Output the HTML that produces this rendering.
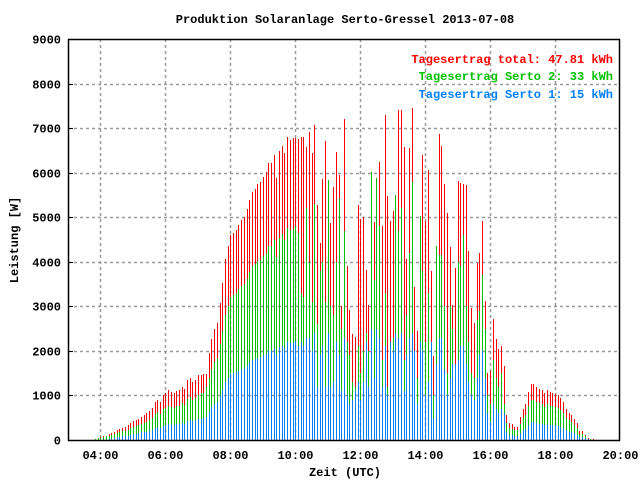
<!DOCTYPE html>
<html><head><meta charset="utf-8"><style>
body{margin:0;background:#fff}
svg{display:block}
text{font-family:"Liberation Mono",monospace;font-weight:bold;font-size:12px}
</style></head><body>
<svg id="chart" width="640" height="480" viewBox="0 0 640 480" xmlns="http://www.w3.org/2000/svg">
<rect x="0" y="0" width="640" height="480" fill="#fff"/>
<text x="345" y="23" text-anchor="middle">Produktion Solaranlage Serto-Gressel 2013-07-08</text>
<g id="grid"></g>
<g id="bars" shape-rendering="crispEdges"></g>
<rect x="68.5" y="39.5" width="551" height="401" fill="none" stroke="#000" stroke-width="1.5"/>
<g id="ticks"></g>
<text x="345" y="476" text-anchor="middle">Zeit (UTC)</text>
<text transform="translate(18,240) rotate(-90)" text-anchor="middle">Leistung [W]</text>
<g>
<text x="613" y="63" text-anchor="end" fill="#ff0000">Tagesertrag total: 47.81 kWh</text>
<text x="613" y="80" text-anchor="end" fill="#00c000">Tagesertrag Serto 2: 33 kWh</text>
<text x="613" y="98" text-anchor="end" fill="#0080ff">Tagesertrag Serto 1: 15 kWh</text>
</g>
</svg>
<script>
const startMinutes = 230; // 03:50
const stepMinutes = 5;
const yTicks = [0,1000,2000,3000,4000,5000,6000,7000,8000,9000];
const xTickLabels = ["04:00","06:00","08:00","10:00","12:00","14:00","16:00","18:00","20:00"];
const xTickHours = [4,6,8,10,12,14,16,18,20];
const total = [20,40,60,80,100,130,160,190,220,250,280,300,330,380,420,450,480,520,560,600,650,720,850,900,850,1000,1050,1120,1080,1050,1100,1120,1200,1150,1350,1400,1300,
1350,1450,1450,1480,1480,1950,2270,2500,2630,3070,3530,4060,4350,4600,4640,4710,4820,4940,5010,5180,5390,5570,5630,5740,5790,5900,6010,6220,6220,6400,5880,6490,6600,6440,6800,6730,6770,6770,
6750,6800,6810,6580,6910,6440,7070,5270,4420,5860,6710,5840,4870,5680,6460,5950,3010,7200,3900,2920,2380,2310,5270,4960,5010,3820,3030,6010,4890,5880,6240,4800,7290,5480,4910,5140,5500,7400,
7400,6580,4060,6550,7450,3430,2450,5030,6400,4910,6060,3790,1890,4350,6870,6600,5750,5090,4330,3030,3860,5810,5770,5750,5720,4240,2960,2630,3970,4200,4910,3120,1500,1550,2720,2270,2040,2110,1660,
560,380,350,300,300,510,700,800,1080,1260,1260,1190,1140,1120,1050,1120,1080,1060,1030,1010,940,850,700,610,560,470,380,200,200,110,45,25,15];
const serto2 = [20,40,55,70,80,100,120,140,160,180,200,210,230,260,290,310,330,360,390,410,450,500,580,620,590,690,720,770,740,720,760,770,820,790,930,960,900,
940,1000,1050,1050,1200,1400,1600,1750,1850,2150,2450,2800,3000,3200,3250,3300,3380,3450,3500,3620,3770,3900,3940,4020,4050,4130,4200,4350,4350,4480,4100,4540,4620,4500,4760,4710,4740,4800,
4640,3300,3200,5200,4000,3100,5300,2600,3800,4000,3100,5840,3000,2800,4000,5400,2500,4700,2200,1900,1300,1200,2100,1500,2000,2400,2000,6010,3600,5880,4800,1800,3300,1200,2100,2300,5500,4700,
5200,1800,2800,4200,5800,1600,1400,5030,3800,2200,3300,1800,1000,4350,4150,4150,3000,1500,3000,2500,1500,4000,3900,4600,3000,2200,1500,1400,2700,2900,3700,2500,1000,800,1800,1400,1200,1500,800,
390,270,250,220,220,360,500,570,770,900,900,850,820,800,750,800,770,760,740,720,670,610,500,440,400,340,270,140,140,80,30,20,10];
const serto1 = [0,0,0,0,10,20,30,50,60,70,80,90,100,120,130,140,150,170,180,190,210,230,270,290,270,320,340,360,350,340,350,360,380,370,430,450,420,
450,480,480,500,520,620,730,800,850,980,1130,1300,1400,1480,1500,1520,1550,1590,1610,1670,1740,1800,1810,1850,1870,1900,1940,2000,2000,2060,1900,2090,2120,2070,2190,2170,2180,2220,
2100,2200,2100,2300,2300,2000,2400,1200,1900,2100,1200,2400,1200,1300,2200,1900,1100,2300,1000,800,900,1100,1300,900,1300,2200,1200,2500,1400,2500,2300,1200,2100,1000,2200,2000,2400,2300,
2400,1100,1900,2300,2400,2000,800,2200,2000,1000,1300,2200,500,1700,2300,2300,1600,1000,1400,1700,1700,1800,2100,2100,1700,1300,1000,900,1400,1900,2000,1400,600,400,800,700,600,700,600,
180,120,110,100,100,160,220,250,340,400,400,380,360,360,340,360,340,340,330,320,300,270,220,190,180,150,120,60,60,35,15,8,5];

const NS="http://www.w3.org/2000/svg";
const X0=68, X1=620, Y0=440, Y1=39, H0=3, H1=20, VMAX=9000;
function xOf(h){return X0+(h-H0)*(X1-X0)/(H1-H0);}
function yOf(v){return Y0-v*(Y0-Y1)/VMAX;}
function mk(tag,attrs,parent){const e=document.createElementNS(NS,tag);for(const k in attrs)e.setAttribute(k,attrs[k]);parent.appendChild(e);return e;}
const grid=document.getElementById('grid'), bars=document.getElementById('bars'), ticks=document.getElementById('ticks');
yTicks.forEach((v,i)=>{
  const y=Math.round(yOf(v))+0.5;
  if(v>0&&v<VMAX){const l=mk('line',{x1:X0,x2:X1,y1:y,y2:y,stroke:'#999','stroke-width':1.5,'stroke-dasharray':'3,3'},grid);
  
  }
  const tk=mk('line',{x1:X0,x2:X0+5,y1:y,y2:y,stroke:'#000'},ticks);
  
  
  const t=mk('text',{x:61,y:y+4,'text-anchor':'end'},ticks);t.textContent=v;
  
  
});
xTickHours.forEach((h,i)=>{
  const x=Math.round(xOf(h))+0.5;
  if(h<H1){const l=mk('line',{x1:x,x2:x,y1:Y1,y2:Y0,stroke:'#999','stroke-width':1.5,'stroke-dasharray':'3,3'},grid);
  
  }
  const t=mk('text',{x:x,y:459,'text-anchor':'middle'},ticks);t.textContent=xTickLabels[i];
  
  
});
function drawSeries(arr,color,name){
  arr.forEach((v,i)=>{
    if(v<=0)return;
    const h=(startMinutes+i*stepMinutes)/60;
    const x=Math.round(xOf(h));
    const y=Math.round(yOf(v));
    const r=mk('rect',{x:x,y:y,width:1,height:Y0-y,fill:color},bars);
    
    
  });
}
drawSeries(total,'#ff0000','bar-total');
drawSeries(serto2,'#00c000','bar-serto-2');
drawSeries(serto1,'#0080ff','bar-serto-1');
</script>
</body></html>
